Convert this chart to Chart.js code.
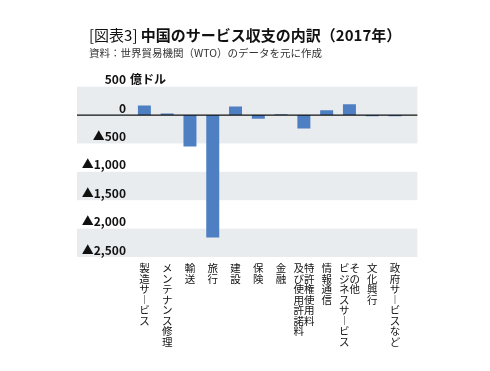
<!DOCTYPE html>
<html><head><meta charset="utf-8">
<script src="https://cdn.jsdelivr.net/npm/chart.js@4/dist/chart.umd.min.js"></script>
<style>html,body{margin:0;padding:0;background:#fff;}#wrap{width:490px;height:371px;position:relative}</style>
</head><body><div id="wrap"><canvas id="c" width="490" height="371"></canvas></div>
<script>
const titlePrefix = '[図表3] ';
const titleMain = '中国のサービス収支の内訳（2017年）';
const subtitleText = '資料：世界貿易機関（WTO）のデータを元に作成';
const unitLabel = '億ドル';
const categories = ['製造サービス','メンテナンス修理','輸送','旅行','建設','保険','金融','特許権使用料|及び使用許諾料','情報通信','その他|ビジネスサービス','文化興行','政府サービスなど'];
const values = [169, 30, -555, -2158, 152, -65, 15, -236, 85, 189, -22, -20];
const yTicks = [500, 0, -500, -1000, -1500, -2000, -2500];
const bands = [[500, -500], [-1000, -1500], [-2000, -2500]];

const FONT = '"Noto Sans CJK JP", "Noto Sans", sans-serif';

function toVertical(name) {
  const cols = name.split('|').map(s => Array.from(s.replace(/ー/g, '︱')));
  if (cols.length === 1) return cols[0];
  const right = cols[0], left = cols[1];
  const n = Math.max(right.length, left.length);
  const rows = [];
  for (let i = 0; i < n; i++) rows.push((left[i] || '　') + (right[i] || '　'));
  return rows;
}
function fmtTick(v) {
  if (v === 0) return '0';
  if (v < 0) return '▲' + Math.abs(v).toLocaleString('en-US');
  return String(v);
}

const decor = {
  id: 'decor',
  beforeDraw(chart) {
    const {ctx, chartArea, scales: {y}} = chart;
    const L = chartArea.left - 56, R = chartArea.right + 11;
    ctx.save();
    ctx.fillStyle = '#e9ecef';
    bands.forEach(([a, b]) => {
      const ya = y.getPixelForValue(a), yb = y.getPixelForValue(b);
      ctx.fillRect(L, ya, R - L, yb - ya);
    });
    ctx.fillStyle = '#111';
    ctx.textBaseline = 'middle';
    ctx.textAlign = 'left';
    ctx.font = '15px ' + FONT;
    ctx.fillText(titlePrefix, 89, 35.5);
    const w = ctx.measureText(titlePrefix).width;
    ctx.font = 'bold 15px ' + FONT;
    ctx.fillText(titleMain, 89 + w, 35.5);
    ctx.fillStyle = '#333';
    ctx.font = '10.5px ' + FONT;
    ctx.fillText(subtitleText, 89, 53);
    ctx.restore();
  },
  afterDatasetsDraw(chart) {
    const {ctx, chartArea, scales: {y}} = chart;
    const y0 = y.getPixelForValue(0);
    ctx.save();
    ctx.strokeStyle = '#111';
    ctx.lineWidth = 1.3;
    ctx.beginPath();
    ctx.moveTo(chartArea.left - 56, y0);
    ctx.lineTo(chartArea.right + 11, y0);
    ctx.stroke();
    ctx.restore();
  },
  afterDraw(chart) {
    const {ctx, chartArea, scales: {y}} = chart;
    const yp = y.getPixelForValue(yTicks[0]) - 7;
    ctx.save();
    ctx.fillStyle = '#111';
    ctx.font = 'bold 12px ' + FONT;
    ctx.textBaseline = 'middle';
    ctx.textAlign = 'left';
    ctx.fillText(unitLabel, chartArea.left - 7 + 4, yp);
    ctx.restore();
  }
};

new Chart(document.getElementById('c'), {
  type: 'bar',
  data: {
    labels: categories.map(toVertical),
    datasets: [{
      data: values,
      backgroundColor: '#4e7fc3',
      borderWidth: 0,
      categoryPercentage: 1,
      barPercentage: 0.57
    }]
  },
  options: {
    responsive: false,
    animation: false,
    layout: {padding: {left: 77, right: 83.6, top: 86.7, bottom: 0}},
    plugins: {legend: {display: false}, tooltip: {enabled: false}, title: {display: false}},
    scales: {
      x: {
        grid: {display: false, drawTicks: false},
        border: {display: false},
        ticks: {autoSkip: false, maxRotation: 0, minRotation: 0, padding: 6, color: '#111',
          font: {family: FONT, size: 10.5, lineHeight: 1.0}},
        afterFit(scale) { scale.height = 114; }
      },
      y: {
        min: -2500, max: 500,
        afterBuildTicks(scale) { scale.ticks = yTicks.map(v => ({value: v})); },
        afterFit(scale) { scale.width = 56; },
        grid: {display: false, drawTicks: false},
        border: {display: false},
        ticks: {padding: 7, labelOffset: -7, color: '#111',
          font: {family: FONT, size: 12, weight: 'bold'},
          callback: v => fmtTick(v)}
      }
    }
  },
  plugins: [decor]
});
</script></body></html>
